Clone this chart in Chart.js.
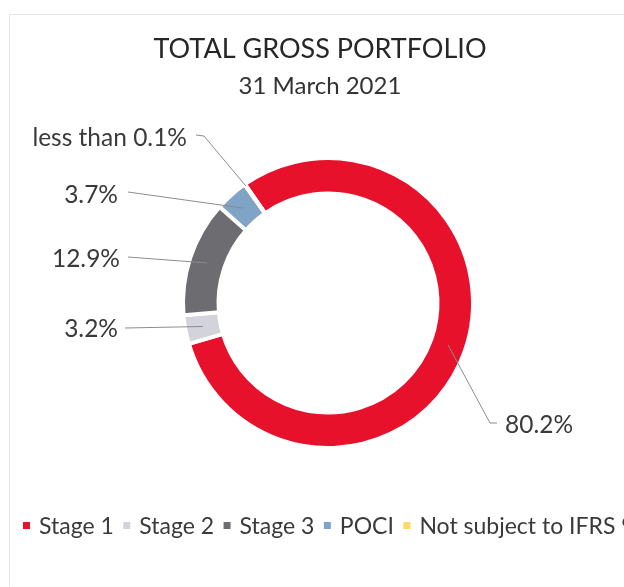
<!DOCTYPE html>
<html>
<head>
<meta charset="utf-8">
<script src="https://cdn.jsdelivr.net/npm/chart.js@4.4.0/dist/chart.umd.min.js"></script>
<style>
  html, body { margin: 0; padding: 0; background: #fff; overflow: hidden; }
  #wrap { position: relative; width: 624px; height: 587px; }
  #frame { position: absolute; left: 9px; top: 14px; right: -5px; bottom: -5px;
           border-left: 1px solid #e4e4e4; border-top: 1px solid #e4e4e4; }
  canvas { position: absolute; left: 0; top: 0; }
</style>
</head>
<body>
<div id="wrap">
  <div id="frame"></div>
  <canvas id="canvas" width="624" height="587"></canvas>
</div>
<script>
var categories = ['Stage 1', 'Stage 2', 'Stage 3', 'POCI', 'Not subject to IFRS 9'];
var shares = [80.2, 3.2, 12.9, 3.7, 0.04];
var colors = ['#e8112b', '#d3d3dc', '#6d6d71', '#7fa4c6', '#ffd966'];
var titleText = 'TOTAL GROSS PORTFOLIO';
var subtitleText = '31 March 2021';

function pctLabel(v) {
    return v < 0.1 ? 'less than 0.1%' : v.toFixed(1) + '%';
}

// where each callout text sits (right edge / left edge, middle y) and the elbow of its line
var callouts = [
    { x: 505, y: 425, align: 'left',  lineStart: [497, 423], elbow: [490, 423], r: 0.5 },
    { x: 118, y: 329, align: 'right', lineStart: [125, 328], elbow: null, r: 0.5 },
    { x: 120, y: 259, align: 'right', lineStart: [128, 257], elbow: null, r: 0.5 },
    { x: 118, y: 195, align: 'right', lineStart: [128, 192], elbow: null, r: 0.5 },
    { x: 187, y: 138, align: 'right', lineStart: [196, 135], elbow: [204, 136], r: 1.0 }
];

var FONT = 'Lato, "Open Sans", sans-serif';

var decorPlugin = {
    id: 'decor',
    afterDraw: function(chart) {
        var ctx = chart.ctx;
        ctx.save();
        // titles
        ctx.textAlign = 'center';
        ctx.textBaseline = 'middle';
        ctx.fillStyle = '#262626';
        ctx.font = '27px ' + FONT;
        ctx.fillText(titleText, 320, 49);
        ctx.fillStyle = '#333333';
        ctx.font = '24px ' + FONT;
        ctx.fillText(subtitleText, 320, 86);

        // callouts
        var arcs = chart.getDatasetMeta(0).data;
        ctx.font = '24.5px ' + FONT;
        ctx.strokeStyle = '#8c8c8c';
        ctx.lineWidth = 1;
        arcs.forEach(function(arc, i) {
            var c = callouts[i];
            var p = arc.getProps(['x', 'y', 'startAngle', 'endAngle', 'innerRadius', 'outerRadius'], true);
            var mid = (p.startAngle + p.endAngle) / 2;
            var rad = p.innerRadius + (p.outerRadius - p.innerRadius) * c.r;
            if (i === 4) rad = p.outerRadius - 2;
            var ax = p.x + Math.cos(mid) * rad;
            var ay = p.y + Math.sin(mid) * rad;
            ctx.beginPath();
            ctx.moveTo(c.lineStart[0], c.lineStart[1]);
            if (c.elbow) ctx.lineTo(c.elbow[0], c.elbow[1]);
            ctx.lineTo(ax, ay);
            ctx.stroke();
            ctx.fillStyle = '#3a3a3a';
            ctx.textAlign = c.align;
            ctx.fillText(pctLabel(shares[i]), c.x, c.y);
        });

        // legend (runs past the right edge like the original)
        ctx.font = '23px ' + FONT;
        ctx.textAlign = 'left';
        var lx = 23, ly = 526;
        categories.forEach(function(name, i) {
            ctx.fillStyle = colors[i];
            ctx.fillRect(lx, ly - 4, 7, 7);
            lx += 16;
            ctx.fillStyle = '#3a3a3a';
            ctx.fillText(name, lx, ly + 1);
            lx += ctx.measureText(name).width + 9.5;
        });
        ctx.restore();
    }
};

var ctx = document.getElementById('canvas').getContext('2d');
var myChart = new Chart(ctx, {
    type: 'doughnut',
    data: {
        labels: categories,
        datasets: [{
            data: shares,
            backgroundColor: colors,
            borderColor: '#ffffff',
            borderWidth: 4,
            hoverOffset: 0,
            radius: 145,
            cutout: 108
        }]
    },
    options: {
        responsive: false,
        animation: false,
        rotation: -35,
        layout: { padding: { left: 183, right: 151, top: 158, bottom: 139 } },
        plugins: {
            legend: { display: false },
            title: { display: false },
            tooltip: { enabled: false }
        }
    },
    plugins: [decorPlugin]
});
</script>
</body>
</html>
